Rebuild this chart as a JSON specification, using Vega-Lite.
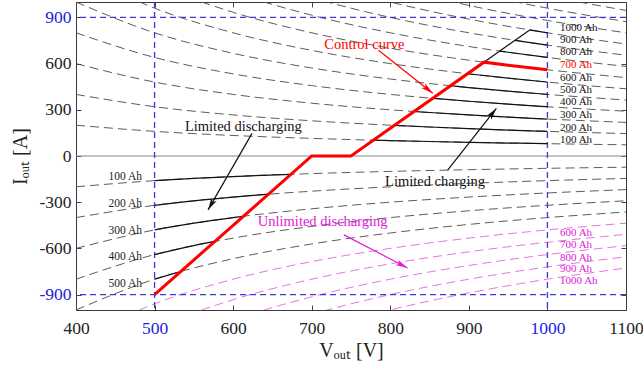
{
  "$schema": "https://vega.github.io/schema/vega-lite/v6.json",
  "width": 550,
  "height": 308,
  "autosize": {"type": "none"},
  "padding": {"left": 76, "top": 2, "right": 17, "bottom": 61},
  "config": {
    "font": "Liberation Serif",
    "text": {"font": "Liberation Serif"},
    "view": {"stroke": "#3a3a3a", "strokeWidth": 1},
    "axis": {"domain": false, "grid": false, "tickColor": "#444", "tickSize": -5, "labelFontSize": 17.5, "labelColor": "#222", "labelFont": "Liberation Serif", "titleFont": "Liberation Serif", "titleFontSize": 20, "titleFontWeight": "normal", "titleColor": "#222", "labelFlush": false, "labelOverlap": false}
  },
  "datasets": {
    "gray": [
      {"s":"u1","v":400,"i":200},{"s":"u1","v":500,"i":160},{"s":"u1","v":600,"i":133.3},{"s":"u1","v":700,"i":114.3},{"s":"u1","v":800,"i":100},{"s":"u1","v":900,"i":88.9},{"s":"u1","v":1000,"i":80},{"s":"u1","v":1100,"i":72.7},
      {"s":"u2","v":400,"i":400},{"s":"u2","v":500,"i":320},{"s":"u2","v":600,"i":266.7},{"s":"u2","v":700,"i":228.6},{"s":"u2","v":800,"i":200},{"s":"u2","v":900,"i":177.8},{"s":"u2","v":1000,"i":160},{"s":"u2","v":1100,"i":145.5},
      {"s":"u3","v":400,"i":600},{"s":"u3","v":500,"i":480},{"s":"u3","v":600,"i":400},{"s":"u3","v":700,"i":342.9},{"s":"u3","v":800,"i":300},{"s":"u3","v":900,"i":266.7},{"s":"u3","v":1000,"i":240},{"s":"u3","v":1100,"i":218.2},
      {"s":"u4","v":400,"i":800},{"s":"u4","v":500,"i":640},{"s":"u4","v":600,"i":533.3},{"s":"u4","v":700,"i":457.1},{"s":"u4","v":800,"i":400},{"s":"u4","v":900,"i":355.6},{"s":"u4","v":1000,"i":320},{"s":"u4","v":1100,"i":290.9},
      {"s":"u5","v":400,"i":1000},{"s":"u5","v":500,"i":800},{"s":"u5","v":600,"i":666.7},{"s":"u5","v":700,"i":571.4},{"s":"u5","v":800,"i":500},{"s":"u5","v":900,"i":444.4},{"s":"u5","v":1000,"i":400},{"s":"u5","v":1100,"i":363.6},
      {"s":"u6","v":400,"i":1200},{"s":"u6","v":500,"i":960},{"s":"u6","v":600,"i":800},{"s":"u6","v":700,"i":685.7},{"s":"u6","v":800,"i":600},{"s":"u6","v":900,"i":533.3},{"s":"u6","v":1000,"i":480},{"s":"u6","v":1100,"i":436.4},
      {"s":"u7","v":400,"i":1400},{"s":"u7","v":500,"i":1120},{"s":"u7","v":600,"i":933.3},{"s":"u7","v":700,"i":800},{"s":"u7","v":800,"i":700},{"s":"u7","v":900,"i":622.2},{"s":"u7","v":1000,"i":560},{"s":"u7","v":1100,"i":509.1},
      {"s":"u8","v":400,"i":1600},{"s":"u8","v":500,"i":1280},{"s":"u8","v":600,"i":1066.7},{"s":"u8","v":700,"i":914.3},{"s":"u8","v":800,"i":800},{"s":"u8","v":900,"i":711.1},{"s":"u8","v":1000,"i":640},{"s":"u8","v":1100,"i":581.8},
      {"s":"u9","v":500,"i":1440},{"s":"u9","v":600,"i":1200},{"s":"u9","v":700,"i":1028.6},{"s":"u9","v":800,"i":900},{"s":"u9","v":900,"i":800},{"s":"u9","v":1000,"i":720},{"s":"u9","v":1100,"i":654.5},
      {"s":"u10","v":600,"i":1333.3},{"s":"u10","v":700,"i":1142.9},{"s":"u10","v":800,"i":1000},{"s":"u10","v":900,"i":888.9},{"s":"u10","v":1000,"i":800},{"s":"u10","v":1100,"i":727.3},
      {"s":"u11","v":700,"i":1257.1},{"s":"u11","v":800,"i":1100},{"s":"u11","v":900,"i":977.8},{"s":"u11","v":1000,"i":880},{"s":"u11","v":1100,"i":800},
      {"s":"u12","v":800,"i":1200},{"s":"u12","v":900,"i":1066.7},{"s":"u12","v":1000,"i":960},{"s":"u12","v":1100,"i":872.7},
      {"s":"u13","v":900,"i":1155.6},{"s":"u13","v":1000,"i":1040},{"s":"u13","v":1100,"i":945.5},
      {"s":"d1","v":400,"i":-200},{"s":"d1","v":500,"i":-160},{"s":"d1","v":600,"i":-133.3},{"s":"d1","v":700,"i":-114.3},{"s":"d1","v":800,"i":-100},{"s":"d1","v":900,"i":-88.9},{"s":"d1","v":1000,"i":-80},{"s":"d1","v":1100,"i":-72.7},
      {"s":"d2","v":400,"i":-400},{"s":"d2","v":500,"i":-320},{"s":"d2","v":600,"i":-266.7},{"s":"d2","v":700,"i":-228.6},{"s":"d2","v":800,"i":-200},{"s":"d2","v":900,"i":-177.8},{"s":"d2","v":1000,"i":-160},{"s":"d2","v":1100,"i":-145.5},
      {"s":"d3","v":400,"i":-600},{"s":"d3","v":500,"i":-480},{"s":"d3","v":600,"i":-400},{"s":"d3","v":700,"i":-342.9},{"s":"d3","v":800,"i":-300},{"s":"d3","v":900,"i":-266.7},{"s":"d3","v":1000,"i":-240},{"s":"d3","v":1100,"i":-218.2},
      {"s":"d4","v":400,"i":-800},{"s":"d4","v":500,"i":-640},{"s":"d4","v":600,"i":-533.3},{"s":"d4","v":700,"i":-457.1},{"s":"d4","v":800,"i":-400},{"s":"d4","v":900,"i":-355.6},{"s":"d4","v":1000,"i":-320},{"s":"d4","v":1100,"i":-290.9},
      {"s":"d5","v":400,"i":-1000},{"s":"d5","v":500,"i":-800},{"s":"d5","v":600,"i":-666.7},{"s":"d5","v":700,"i":-571.4},{"s":"d5","v":800,"i":-500},{"s":"d5","v":900,"i":-444.4},{"s":"d5","v":1000,"i":-400},{"s":"d5","v":1100,"i":-363.6}
    ],
    "mag": [
      {"s":"m6","v":400,"i":-1200},{"s":"m6","v":500,"i":-960},{"s":"m6","v":600,"i":-800},{"s":"m6","v":700,"i":-685.7},{"s":"m6","v":800,"i":-600},{"s":"m6","v":900,"i":-533.3},{"s":"m6","v":1000,"i":-480},{"s":"m6","v":1100,"i":-436.4},
      {"s":"m7","v":400,"i":-1400},{"s":"m7","v":500,"i":-1120},{"s":"m7","v":600,"i":-933.3},{"s":"m7","v":700,"i":-800},{"s":"m7","v":800,"i":-700},{"s":"m7","v":900,"i":-622.2},{"s":"m7","v":1000,"i":-560},{"s":"m7","v":1100,"i":-509.1},
      {"s":"m8","v":400,"i":-1600},{"s":"m8","v":500,"i":-1280},{"s":"m8","v":600,"i":-1066.7},{"s":"m8","v":700,"i":-914.3},{"s":"m8","v":800,"i":-800},{"s":"m8","v":900,"i":-711.1},{"s":"m8","v":1000,"i":-640},{"s":"m8","v":1100,"i":-581.8},
      {"s":"m9","v":500,"i":-1440},{"s":"m9","v":600,"i":-1200},{"s":"m9","v":700,"i":-1028.6},{"s":"m9","v":800,"i":-900},{"s":"m9","v":900,"i":-800},{"s":"m9","v":1000,"i":-720},{"s":"m9","v":1100,"i":-654.5},
      {"s":"m10","v":600,"i":-1333.3},{"s":"m10","v":700,"i":-1142.9},{"s":"m10","v":800,"i":-1000},{"s":"m10","v":900,"i":-888.9},{"s":"m10","v":1000,"i":-800},{"s":"m10","v":1100,"i":-727.3}
    ],
    "solid": [
      {"s":"c1","v":778.5,"i":102.8},{"s":"c1","v":800,"i":100},{"s":"c1","v":850,"i":94.1},{"s":"c1","v":900,"i":88.9},{"s":"c1","v":950,"i":84.2},{"s":"c1","v":1000,"i":80},
      {"s":"c2","v":805.2,"i":198.7},{"s":"c2","v":850,"i":188.2},{"s":"c2","v":900,"i":177.8},{"s":"c2","v":950,"i":168.4},{"s":"c2","v":1000,"i":160},
      {"s":"c3","v":830.3,"i":289.1},{"s":"c3","v":850,"i":282.4},{"s":"c3","v":900,"i":266.7},{"s":"c3","v":950,"i":252.6},{"s":"c3","v":1000,"i":240},
      {"s":"c4","v":854.1,"i":374.7},{"s":"c4","v":900,"i":355.6},{"s":"c4","v":950,"i":336.8},{"s":"c4","v":1000,"i":320},
      {"s":"c5","v":876.7,"i":456.3},{"s":"c5","v":900,"i":444.4},{"s":"c5","v":950,"i":421.1},{"s":"c5","v":1000,"i":400},
      {"s":"c6","v":898.4,"i":534.3},{"s":"c6","v":950,"i":505.3},{"s":"c6","v":1000,"i":480},
      {"s":"c8","v":939.3,"i":681.4},{"s":"c8","v":950,"i":673.7},{"s":"c8","v":1000,"i":640},
      {"s":"c9","v":958.6,"i":751.1},{"s":"c9","v":1000,"i":720},
      {"s":"c10","v":977.4,"i":818.5},{"s":"c10","v":1000,"i":800},
      {"s":"l1","v":500,"i":-160},{"s":"l1","v":550,"i":-145.5},{"s":"l1","v":600,"i":-133.3},{"s":"l1","v":650,"i":-123.1},{"s":"l1","v":673.6,"i":-118.8},
      {"s":"l2","v":500,"i":-320},{"s":"l2","v":550,"i":-290.9},{"s":"l2","v":600,"i":-266.7},{"s":"l2","v":644.9,"i":-248.1},
      {"s":"l3","v":500,"i":-480},{"s":"l3","v":550,"i":-436.4},{"s":"l3","v":600,"i":-400},{"s":"l3","v":613,"i":-391.5},
      {"s":"l4","v":500,"i":-640},{"s":"l4","v":550,"i":-581.8},{"s":"l4","v":576.7,"i":-554.9},
      {"s":"l5","v":500,"i":-800},{"s":"l5","v":533.3,"i":-750},
      {"s":"dg","v":919.2,"i":609.2},{"s":"dg","v":977.4,"i":818.5}
    ],
    "red": [
      {"v":500,"i":-900},{"v":700,"i":0},{"v":750,"i":0},{"v":919.2,"i":609.2},{"v":950,"i":589.5},{"v":1000,"i":560}
    ],
    "vlines": [{"v":500},{"v":1000}],
    "hlines": [{"i":900},{"i":-900}],
    "zero": [{"i":0}],
    "arrows": [
      {"a":"c","c":"r","v":785,"i":687,"v2":854,"i2":408},
      {"a":"ld","c":"k","v":624,"i":147,"v2":568,"i2":-350},
      {"a":"lc","c":"k","v":873,"i":-91,"v2":935,"i2":309},
      {"a":"ud","c":"m","v":741,"i":-512,"v2":822,"i2":-727}
    ],
    "ahl": [
      {"v":484,"i":-134,"t":"100 Ah"},{"v":484,"i":-312,"t":"200 Ah"},{"v":484,"i":-485,"t":"300 Ah"},{"v":484,"i":-658,"t":"400 Ah"},{"v":484,"i":-833,"t":"500 Ah"}
    ],
    "ahr": [
      {"v":1016,"i":833,"t":"1000 Ah","c":"k"},{"v":1016,"i":753,"t":"900 Ah","c":"k"},{"v":1016,"i":673,"t":"800 Ah","c":"k"},{"v":1016,"i":591,"t":"700 Ah","c":"r"},{"v":1016,"i":505,"t":"600 Ah","c":"k"},{"v":1016,"i":429,"t":"500 Ah","c":"k"},{"v":1016,"i":353,"t":"400 Ah","c":"k"},{"v":1016,"i":266,"t":"300 Ah","c":"k"},{"v":1016,"i":184,"t":"200 Ah","c":"k"},{"v":1016,"i":104,"t":"100 Ah","c":"k"},
      {"v":1016,"i":-502,"t":"600 Ah","c":"m"},{"v":1016,"i":-578,"t":"700 Ah","c":"m"},{"v":1016,"i":-660,"t":"800 Ah","c":"m"},{"v":1016,"i":-736,"t":"900 Ah","c":"m"},{"v":1016,"i":-812,"t":"1000 Ah","c":"m"}
    ],
    "notes": [
      {"v":767,"i":722,"t":"Control curve","c":"r"},
      {"v":613,"i":188,"t":"Limited discharging","c":"k"},
      {"v":857,"i":-167,"t":"Limited charging","c":"k"},
      {"v":714,"i":-426,"t":"Unlimited discharging","c":"m"}
    ]
  },
  "resolve": {"axis": {"x": "independent", "y": "independent"}},
  "layer": [
    {
      "layer": [
        {
          "data": {"name": "gray"},
          "mark": {"type": "line", "stroke": "#4a4a4a", "strokeWidth": 0.9, "strokeDash": [9, 5], "interpolate": "monotone", "clip": true},
          "encoding": {
            "x": {"field": "v", "type": "quantitative", "scale": {"domain": [400, 1100], "nice": false, "zero": false},
              "axis": {"values": [400, 500, 600, 700, 800, 900, 1000, 1100], "labelPadding": 14, "title": "Vₒᵤₜ [V]", "titlePadding": 4,
                "labelExpr": "'' + datum.value",
                "labelColor": {"condition": {"test": "datum.value == 500 || datum.value == 1000", "value": "#2020e0"}, "value": "#222"}}},
            "y": {"field": "i", "type": "quantitative", "scale": {"domain": [-1000, 1000], "nice": false, "zero": false},
              "axis": {"values": [-900, -600, -300, 0, 300, 600, 900], "labelPadding": 10, "title": "Iₒᵤₜ [A]", "titlePadding": 8,
                "labelExpr": "'' + datum.value",
                "labelColor": {"condition": {"test": "datum.value == 900 || datum.value == -900", "value": "#2020e0"}, "value": "#222"}}},
            "detail": {"field": "s"}
          }
        },
        {
          "data": {"name": "mag"},
          "mark": {"type": "line", "stroke": "#e463e0", "strokeWidth": 0.9, "strokeDash": [9, 5], "interpolate": "monotone", "clip": true},
          "encoding": {"x": {"field": "v", "type": "quantitative"}, "y": {"field": "i", "type": "quantitative"}, "detail": {"field": "s"}}
        },
        {
          "data": {"name": "zero"},
          "mark": {"type": "rule", "stroke": "#888", "strokeWidth": 1},
          "encoding": {"y": {"field": "i", "type": "quantitative"}}
        },
        {
          "data": {"name": "vlines"},
          "mark": {"type": "rule", "stroke": "#3a3ad8", "strokeWidth": 1.3, "strokeDash": [6, 4]},
          "encoding": {"x": {"field": "v", "type": "quantitative"}}
        },
        {
          "data": {"name": "hlines"},
          "mark": {"type": "rule", "stroke": "#3a3ad8", "strokeWidth": 1.3, "strokeDash": [6, 4]},
          "encoding": {"y": {"field": "i", "type": "quantitative"}}
        },
        {
          "data": {"name": "solid"},
          "mark": {"type": "line", "stroke": "#111", "strokeWidth": 1.2, "interpolate": "monotone", "clip": true},
          "encoding": {"x": {"field": "v", "type": "quantitative"}, "y": {"field": "i", "type": "quantitative"}, "detail": {"field": "s"}}
        },
        {
          "data": {"name": "red"},
          "mark": {"type": "line", "stroke": "#ff0000", "strokeWidth": 3, "clip": true},
          "encoding": {"x": {"field": "v", "type": "quantitative"}, "y": {"field": "i", "type": "quantitative"}}
        },
        {
          "data": {"name": "arrows"},
          "mark": {"type": "rule", "strokeWidth": 1.2},
          "encoding": {
            "x": {"field": "v", "type": "quantitative"}, "y": {"field": "i", "type": "quantitative"},
            "x2": {"field": "v2"}, "y2": {"field": "i2"},
            "color": {"field": "c", "type": "nominal", "scale": {"domain": ["k", "r", "m"], "range": ["#111111", "#ff0000", "#e020d8"]}, "legend": null}
          }
        },
        {
          "data": {"name": "arrows"},
          "transform": [{"filter": "datum.a == 'c'"}],
          "mark": {"type": "point", "filled": true, "opacity": 1, "size": 180, "shape": "M0,0L0.45,1.8L0,1.35L-0.45,1.8Z", "angle": 128.4},
          "encoding": {"x": {"field": "v2", "type": "quantitative"}, "y": {"field": "i2", "type": "quantitative"}, "color": {"field": "c", "type": "nominal", "legend": null}}
        },
        {
          "data": {"name": "arrows"},
          "transform": [{"filter": "datum.a == 'ld'"}],
          "mark": {"type": "point", "filled": true, "opacity": 1, "size": 180, "shape": "M0,0L0.45,1.8L0,1.35L-0.45,1.8Z", "angle": 209.9},
          "encoding": {"x": {"field": "v2", "type": "quantitative"}, "y": {"field": "i2", "type": "quantitative"}, "color": {"field": "c", "type": "nominal", "legend": null}}
        },
        {
          "data": {"name": "arrows"},
          "transform": [{"filter": "datum.a == 'lc'"}],
          "mark": {"type": "point", "filled": true, "opacity": 1, "size": 180, "shape": "M0,0L0.45,1.8L0,1.35L-0.45,1.8Z", "angle": 38.3},
          "encoding": {"x": {"field": "v2", "type": "quantitative"}, "y": {"field": "i2", "type": "quantitative"}, "color": {"field": "c", "type": "nominal", "legend": null}}
        },
        {
          "data": {"name": "arrows"},
          "transform": [{"filter": "datum.a == 'ud'"}],
          "mark": {"type": "point", "filled": true, "opacity": 1, "size": 180, "shape": "M0,0L0.45,1.8L0,1.35L-0.45,1.8Z", "angle": 117.5},
          "encoding": {"x": {"field": "v2", "type": "quantitative"}, "y": {"field": "i2", "type": "quantitative"}, "color": {"field": "c", "type": "nominal", "legend": null}}
        },
        {
          "data": {"name": "ahl"},
          "mark": {"type": "text", "font": "Liberation Serif, Times New Roman, serif", "align": "right", "baseline": "middle", "fontSize": 11.5, "fill": "#222"},
          "encoding": {"x": {"field": "v", "type": "quantitative"}, "y": {"field": "i", "type": "quantitative"}, "text": {"field": "t"}}
        },
        {
          "data": {"name": "ahr"},
          "mark": {"type": "text", "font": "Liberation Serif, Times New Roman, serif", "align": "left", "baseline": "middle", "fontSize": 11},
          "encoding": {"x": {"field": "v", "type": "quantitative"}, "y": {"field": "i", "type": "quantitative"}, "text": {"field": "t"}, "color": {"field": "c", "type": "nominal", "legend": null}}
        },
        {
          "data": {"name": "notes"},
          "mark": {"type": "text", "font": "Liberation Serif, Times New Roman, serif", "align": "center", "baseline": "middle", "fontSize": 14.5},
          "encoding": {"x": {"field": "v", "type": "quantitative"}, "y": {"field": "i", "type": "quantitative"}, "text": {"field": "t"}, "color": {"field": "c", "type": "nominal", "legend": null}}
        }
      ]
    },
    {
      "data": {"values": [{"v": 400, "i": 0}]},
      "mark": {"type": "point", "opacity": 0},
      "encoding": {
        "x": {"field": "v", "type": "quantitative", "scale": {"domain": [400, 1100], "nice": false, "zero": false},
          "axis": {"orient": "top", "values": [400, 500, 600, 700, 800, 900, 1000, 1100], "labels": false, "title": null}},
        "y": {"field": "i", "type": "quantitative", "scale": {"domain": [-1000, 1000], "nice": false, "zero": false},
          "axis": {"orient": "right", "values": [-900, -600, -300, 0, 300, 600, 900], "labels": false, "title": null}}
      }
    }
  ]
}
